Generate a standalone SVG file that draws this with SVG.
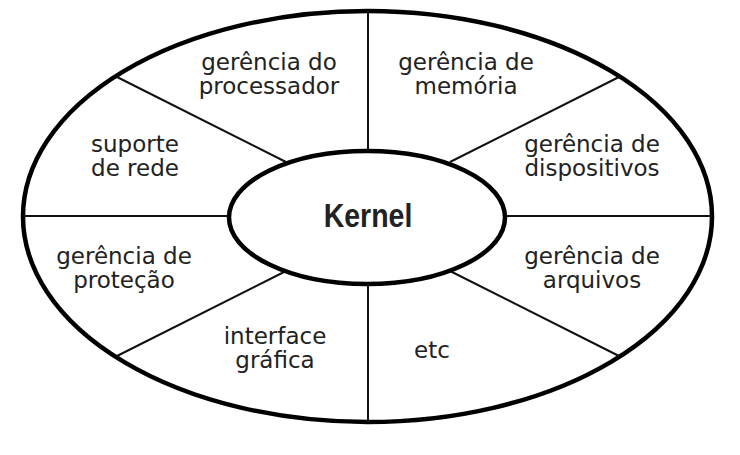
<svg xmlns="http://www.w3.org/2000/svg" width="740" height="455" viewBox="0 0 740 455">
<style>
.e{fill:none;stroke:#000;stroke-width:4.5}
.l{stroke:#111;stroke-width:2;fill:none}
.t{font-family:"DejaVu Sans",sans-serif;font-size:23px;fill:#222;text-anchor:middle}
.k{font-family:"Liberation Sans",Arial,sans-serif;font-size:28.5px;font-weight:bold;fill:#222;text-anchor:middle}
</style>
<rect width="740" height="455" fill="#fff"/>
<g id="outer"><ellipse class="e" cx="367.5" cy="216.5" rx="344.5" ry="205.5"/></g>
<g id="connectors">
<line class="l" x1="368" y1="11" x2="368" y2="151"/>
<line class="l" x1="368" y1="284" x2="368" y2="422"/>
<line class="l" x1="23" y1="216" x2="229" y2="216"/>
<line class="l" x1="505" y1="216" x2="712" y2="216"/>
<line class="l" x1="117" y1="77" x2="286" y2="162"/>
<line class="l" x1="619" y1="77" x2="450" y2="162"/>
<line class="l" x1="117" y1="356" x2="286" y2="271"/>
<line class="l" x1="619" y1="356" x2="450" y2="271"/>
</g>
<g id="kernel"><ellipse class="e" cx="367" cy="217.5" rx="138" ry="66.5" fill="#fff"/><text class="k" transform="translate(368,226.5) scale(1,1.19)">Kernel</text></g>
<g id="processador"><text class="t" x="269" y="70">gerência do</text><text class="t" x="269" y="94">processador</text></g>
<g id="memoria"><text class="t" x="466" y="70">gerência de</text><text class="t" x="466" y="94">memória</text></g>
<g id="rede"><text class="t" x="135" y="152">suporte</text><text class="t" x="135" y="176">de rede</text></g>
<g id="dispositivos"><text class="t" x="592" y="152">gerência de</text><text class="t" x="592" y="176">dispositivos</text></g>
<g id="protecao"><text class="t" x="124" y="264">gerência de</text><text class="t" x="124" y="288">proteção</text></g>
<g id="arquivos"><text class="t" x="592" y="264">gerência de</text><text class="t" x="592" y="288">arquivos</text></g>
<g id="grafica"><text class="t" x="275" y="344">interface</text><text class="t" x="275" y="368">gráfica</text></g>
<g id="etc"><text class="t" x="432" y="358">etc</text></g>
</svg>
